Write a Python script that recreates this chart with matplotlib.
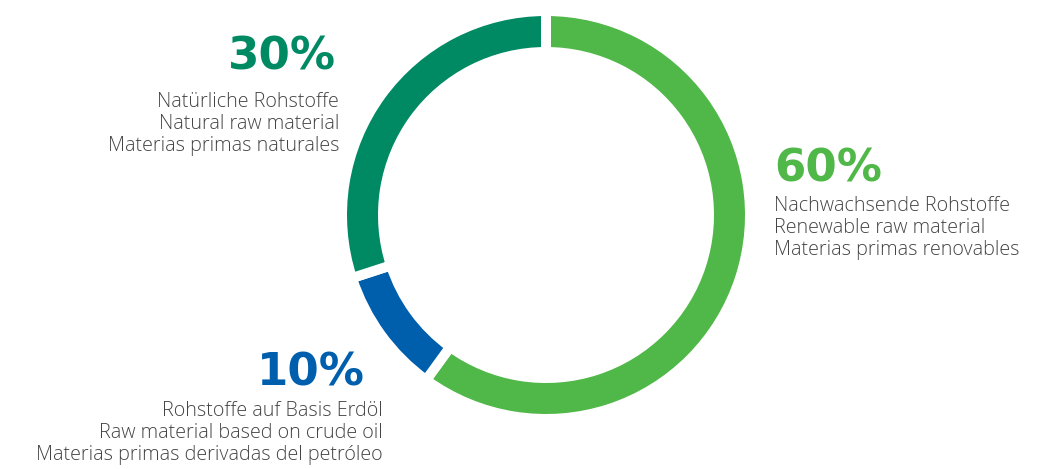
import matplotlib.pyplot as plt

# Daten
# ------------------------------------------------------------------
shares = [60, 10, 30]
pct_labels = ["60%", "10%", "30%"]
colors = ["#50B848", "#005FAD", "#008A64"]
descriptions = [
    ["Nachwachsende Rohstoffe", "Renewable raw material", "Materias primas renovables"],
    ["Rohstoffe auf Basis Erdöl", "Raw material based on crude oil",
     "Materias primas derivadas del petróleo"],
    ["Natürliche Rohstoffe", "Natural raw material", "Materias primas naturales"],
]

# Plot (Achsen in Pixelkoordinaten, y nach unten)
# ------------------------------------------------------------------
W, H = 1061, 469
fig = plt.figure(figsize=(W / 100, H / 100), dpi=100)
ax = fig.add_axes([0, 0, 1, 1])

gap = 10     # px, weisse Fuge zwischen den Segmenten
R = 199      # Aussenradius
ring = 31    # Ringbreite

# y-Achse invertiert -> counterclock=True laeuft optisch im Uhrzeigersinn
ax.pie(shares, colors=colors, startangle=270, counterclock=True,
       center=(546, 215), radius=R + gap / 2, frame=True,
       wedgeprops=dict(width=ring + gap, edgecolor='white',
                       linewidth=gap * 0.72, joinstyle='miter'))
ax.set_xlim(0, W)
ax.set_ylim(H, 0)
ax.set_aspect('equal')
ax.axis('off')

# Beschriftung: (x Prozent, x Text, Baseline Prozent, Baselines Text, Ausrichtung)
pos = [
    (774, 774, 181, [211, 233, 255], 'left'),
    (365, 383, 385, [416, 438, 460], 'right'),
    (336, 339, 70, [107, 129, 151], 'right'),
]

pct_font = dict(family=['DejaVu Sans'], weight='bold', size=32.5)
txt_font = dict(family=['Open Sans', 'DejaVu Sans'], weight='light', size=14.2)

for (xp, xt, yp, ys, ha), p, c, lines in zip(pos, pct_labels, colors, descriptions):
    ax.text(xp, yp, p, color=c, ha=ha, va='baseline', **pct_font)
    for y, line in zip(ys, lines):
        ax.text(xt, y, line, color='#444444', ha=ha, va='baseline', **txt_font)

fig.savefig('out.png', dpi=100)
